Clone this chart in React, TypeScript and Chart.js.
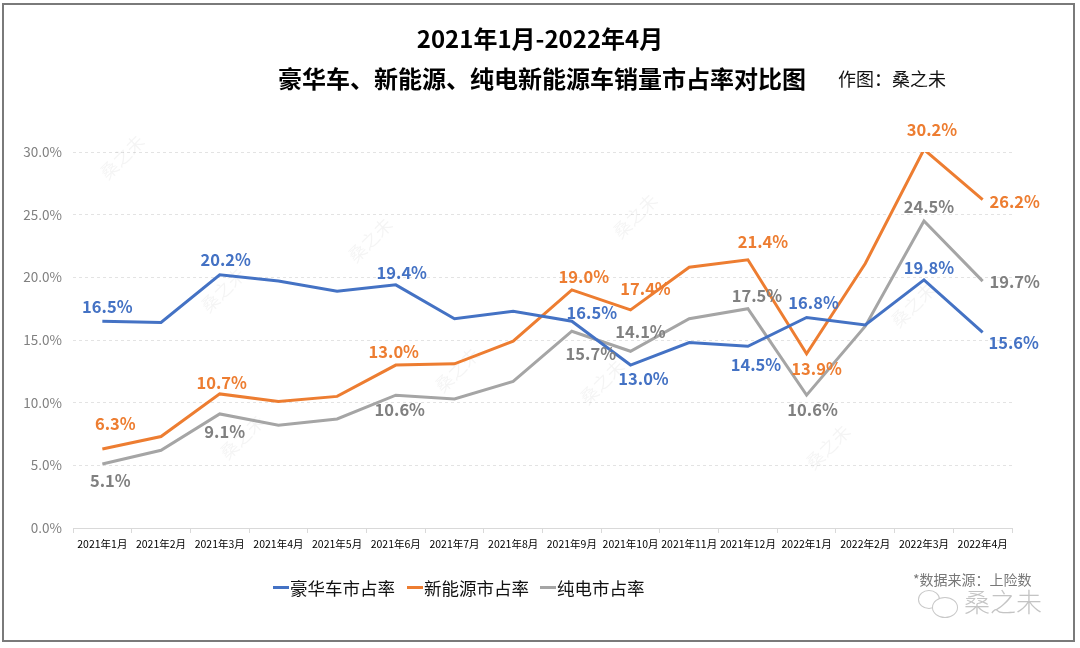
import React, { useEffect, useRef } from "react";
import { Chart, registerables } from "chart.js";

Chart.register(...registerables);

const categories = [
  "2021年1月", "2021年2月", "2021年3月", "2021年4月", "2021年5月", "2021年6月",
  "2021年7月", "2021年8月", "2021年9月", "2021年10月", "2021年11月", "2021年12月",
  "2022年1月", "2022年2月", "2022年3月", "2022年4月",
];

const luxuryShare = [16.5, 16.4, 20.2, 19.7, 18.9, 19.4, 16.7, 17.3, 16.5, 13.0, 14.8, 14.5, 16.8, 16.2, 19.8, 15.6];
const nevShare = [6.3, 7.3, 10.7, 10.1, 10.5, 13.0, 13.1, 14.9, 19.0, 17.4, 20.8, 21.4, 13.9, 21.1, 30.2, 26.2];
const bevShare = [5.1, 6.2, 9.1, 8.2, 8.7, 10.6, 10.3, 11.7, 15.7, 14.1, 16.7, 17.5, 10.6, 16.1, 24.5, 19.7];

const seriesNames = ["豪华车市占率", "新能源市占率", "纯电市占率"];
const yTicks = [0, 5, 10, 15, 20, 25, 30];

const lineColors = ["#4472C4", "#ED7D31", "#A5A5A5"];
const labelColors = ["#4472C4", "#ED7D31", "#808080"];

// label offsets (style): [index, dx, dy] relative to the point
const labelPlacement: number[][][] = [
  [[0, 5, -14], [2, 6, -15], [5, 6, -12], [8, 20, -8], [9, 13, 14], [11, 8, 18], [12, 7, -15], [14, 5, -12], [15, 31, 10]],
  [[0, 13, -25], [2, 2, -11], [5, -2, -13], [8, 12, -13], [9, 15, -21], [11, 15, -18], [12, 10, 15], [14, 8, -20], [15, 32, 2]],
  [[0, 8, 17], [2, 5, 18], [5, 4, 15], [8, 19, 23], [9, 10, -20], [11, 9, -13], [12, 6, 15], [14, 5, -14], [15, 32, 1]],
];

const watermarkSpots = [
  [122, 157], [370, 240], [223, 290], [242, 437], [457, 370],
  [635, 216], [602, 382], [828, 447], [913, 305],
];

const FONT = '"Noto Sans CJK SC", "Noto Sans", sans-serif';

const labelPlugin = {
  id: "valueLabels",
  afterDatasetsDraw(chart: any) {
    const ctx = chart.ctx;
    ctx.save();
    ctx.font = `bold 16.5px ${FONT}`;
    ctx.textAlign = "center";
    ctx.textBaseline = "middle";
    chart.data.datasets.forEach((ds: any, di: number) => {
      const meta = chart.getDatasetMeta(di);
      ctx.fillStyle = labelColors[di];
      labelPlacement[di].forEach(([idx, dx, dy]) => {
        const pt = meta.data[idx];
        const v = ds.data[idx] as number;
        ctx.fillText(v.toFixed(1) + "%", pt.x + dx, pt.y + dy);
      });
    });
    ctx.restore();
  },
};

const watermarkPlugin = {
  id: "watermark",
  beforeDatasetsDraw(chart: any) {
    const ctx = chart.ctx;
    ctx.save();
    ctx.font = `18px ${FONT}`;
    ctx.fillStyle = "rgba(0,0,0,0.045)";
    ctx.textAlign = "center";
    ctx.textBaseline = "middle";
    watermarkSpots.forEach(([x, y]) => {
      ctx.save();
      ctx.translate(x, y);
      ctx.rotate(-Math.PI / 4);
      ctx.fillText("桑之未", 0, 0);
      ctx.restore();
    });
    ctx.restore();
  },
};

export default function App() {
  const ref = useRef<HTMLCanvasElement>(null);

  useEffect(() => {
    document.body.style.margin = "0";
    const canvas = ref.current!;
    const series = [luxuryShare, nevShare, bevShare];
    const chart = new Chart(canvas, {
      type: "line",
      data: {
        labels: categories,
        datasets: series.map((d, i) => ({
          label: seriesNames[i],
          data: d,
          borderColor: lineColors[i],
          backgroundColor: lineColors[i],
          borderWidth: 3,
          pointRadius: 0,
          tension: 0,
          fill: false,
        })),
      },
      options: {
        responsive: false,
        animation: false,
        layout: { padding: { left: 0, right: 68, top: 152, bottom: 90 } },
        plugins: { legend: { display: false }, tooltip: { enabled: false }, title: { display: false } },
        scales: {
          x: {
            type: "category",
            offset: true,
            afterFit(scale: any) { scale.height = 30; },
            grid: { display: true, offset: true, drawOnChartArea: false, drawTicks: true, tickLength: 5, color: "#d9d9d9" },
            border: { display: true, color: "#d9d9d9", width: 1 },
            ticks: { color: "#000", font: { family: FONT, size: 10.5 }, padding: 5, maxRotation: 0, autoSkip: false },
          },
          y: {
            min: 0,
            max: 30,
            afterFit(scale: any) { scale.width = 73; },
            afterBuildTicks(scale: any) { scale.ticks = yTicks.map((v) => ({ value: v })); },
            grid: { color: "#e3e3e3", drawTicks: false, lineWidth: 1 },
            border: { display: false, dash: [3, 3] },
            ticks: {
              color: "#808080",
              font: { family: FONT, size: 13.5 },
              padding: 11,
              callback: (v: any) => Number(v).toFixed(1) + "%",
            },
          },
        },
      } as any,
      plugins: [watermarkPlugin, labelPlugin],
    });
    return () => chart.destroy();
  }, []);

  const legendItem = (i: number, left: number) => (
    <div key={i} style={{ position: "absolute", left, top: 575, height: 24, display: "flex", alignItems: "center" }}>
      <div style={{ width: 16, height: 3, background: lineColors[i], marginRight: 1 }} />
      <span style={{ fontSize: 17.5, color: "#111", whiteSpace: "nowrap" }}>{seriesNames[i]}</span>
    </div>
  );

  return (
    <div style={{ position: "fixed", left: 0, top: 0, width: 1080, height: 648, background: "#fff", fontFamily: FONT, overflow: "hidden" }}>
      <div style={{ position: "absolute", left: 2, top: 3, width: 1073, height: 639, border: "2px solid #7a7a7a", boxSizing: "border-box" }} />
      <canvas ref={ref} width={1080} height={648} style={{ position: "absolute", left: 0, top: 0, width: 1080, height: 648 }} />
      <div style={{ position: "absolute", left: 0, width: 1080, top: 22, textAlign: "center", fontSize: 24, fontWeight: 700, color: "#000", lineHeight: "32px" }}>
        2021年1月-2022年4月
      </div>
      <div style={{ position: "absolute", left: 278, top: 62, fontSize: 24, fontWeight: 700, color: "#000", lineHeight: "32px", whiteSpace: "nowrap" }}>
        豪华车、新能源、纯电新能源车销量市占率对比图
      </div>
      <div style={{ position: "absolute", left: 838, top: 66, fontSize: 18, color: "#111", lineHeight: "24px", whiteSpace: "nowrap" }}>
        作图：桑之未
      </div>
      {legendItem(0, 273)}
      {legendItem(1, 407)}
      {legendItem(2, 540)}
      <div style={{ position: "absolute", left: 913, top: 570, fontSize: 14, color: "#777", lineHeight: "18px", whiteSpace: "nowrap" }}>
        *数据来源：上险数
      </div>
      <div style={{ position: "absolute", left: 918, top: 590, width: 20, height: 17, border: "1px solid #c8c8c8", borderRadius: "50%" }} />
      <div style={{ position: "absolute", left: 932, top: 597, width: 24, height: 19, border: "1px solid #c8c8c8", borderRadius: "50%", background: "#fff" }} />
      <div style={{ position: "absolute", left: 964, top: 586, fontSize: 26, color: "#c4c4c4", lineHeight: "30px", whiteSpace: "nowrap", fontWeight: 300 }}>
        桑之未
      </div>
    </div>
  );
}
